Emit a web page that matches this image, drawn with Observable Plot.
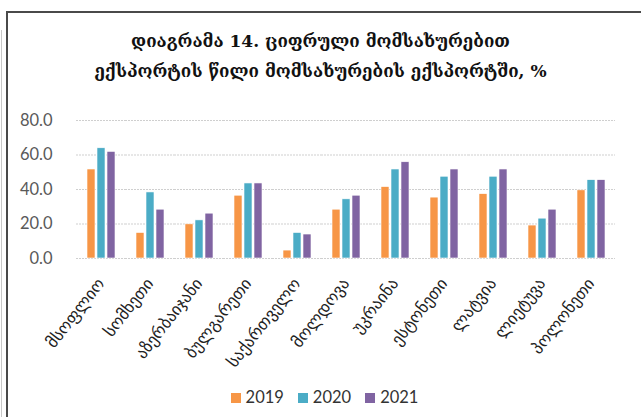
<!DOCTYPE html>
<html>
<head>
<meta charset="utf-8">
<script src="https://cdn.jsdelivr.net/npm/d3@7"></script>
<script src="https://cdn.jsdelivr.net/npm/@observablehq/plot@0.6"></script>
<style>
  html, body { margin: 0; padding: 0; background: #fff; width: 641px; height: 417px; overflow: hidden; }
  #wrap { position: relative; width: 641px; height: 417px; }
  #frame { position: absolute; left: 6px; top: 11px; right: -10px; bottom: -10px; border-left: 2px solid #4a4a4a; border-top: 2px solid #4a4a4a; }
  #edge { position: absolute; left: 1px; top: 30px; bottom: 0; width: 1px; background: #c8c8c8; }
  #title { position: absolute; left: 0; width: 641px; top: 26px; text-align: center; font-family: "DejaVu Serif", serif; font-weight: bold; font-size: 17px; line-height: 30px; color: #111; }
  #chart { position: absolute; left: 0; top: 100px; }
  #legend { position: absolute; left: 4px; width: 641px; top: 387px; text-align: center; font-family: Lato, "Liberation Sans", sans-serif; font-size: 16.5px; color: #333; }
  #legend span.item { display: inline-block; margin: 0 7px; }
  #legend span.sw { display: inline-block; width: 10px; height: 10px; margin-right: 5px; vertical-align: 0px; }
</style>
</head>
<body>
<div id="wrap">
  <div id="edge"></div>
  <div id="frame"></div>
  <div id="title"></div>
  <div id="chart"></div>
  <div id="legend"></div>
</div>
<script>
const titleLines = [
  "დიაგრამა 14. ციფრული მომსახურებით",
  "ექსპორტის წილი მომსახურების ექსპორტში, %"
];
const countries = ["მსოფლიო", "სომხეთი", "აზერბაიჯანი", "ბულგარეთი", "საქართველო", "მოლდოვა", "უკრაინა", "ესტონეთი", "ლატვია", "ლიეტუვა", "პოლონეთი"];
const years = ["2019", "2020", "2021"];
const v2019 = [51.6, 14.8, 19.8, 36.4, 4.6, 28.3, 41.4, 35.3, 37.3, 19.1, 39.5];
const v2020 = [63.9, 38.3, 22.1, 43.5, 14.8, 34.3, 51.6, 47.4, 47.4, 23.1, 45.4];
const v2021 = [61.8, 28.3, 26.0, 43.5, 13.9, 36.4, 55.8, 51.6, 51.6, 28.3, 45.4];
const yTicks = [0, 20, 40, 60, 80];
const colors = ["#F79646", "#4BACC6", "#8064A2"];

const series = [v2019, v2020, v2021];
const data = [];
countries.forEach((c, i) => years.forEach((y, j) => data.push({country: c, year: y, value: series[j][i]})));

document.getElementById("title").innerHTML = titleLines.join("<br>");

const chart = Plot.plot({
  width: 641,
  height: 270,
  marginTop: 20,
  marginBottom: 112,
  marginLeft: 73,
  marginRight: 23,
  style: {fontFamily: "DejaVu Sans, sans-serif", background: "transparent"},
  facet: {data, x: "country"},
  fx: {domain: countries, padding: 0, label: null, tickSize: 0, tickRotate: -52, tickPadding: 22, axis: "bottom"},
  x: {domain: years, axis: null, paddingInner: 0.22, paddingOuter: 0.9},
  y: {domain: [0, 80], ticks: yTicks, tickFormat: d => d.toFixed(1), label: null, tickSize: 0, tickPadding: 24},
  color: {domain: years, range: colors},
  marks: [
    Plot.ruleY(yTicks, {stroke: "#cfcfcf", strokeWidth: 1.2, strokeDasharray: "2,1"}),
    Plot.barY(data, {x: "year", y: "value", fill: "year", stroke: "#ffffff", strokeWidth: 0.6})
  ]
});
chart.querySelectorAll("[aria-label='y-axis'] text, [aria-label='y-axis tick label'] text").forEach(t => {
  t.style.fontSize = "16.5px"; t.style.fontFamily = "Lato, 'Liberation Sans', sans-serif"; t.setAttribute("fill", "#595959");
});
chart.querySelectorAll("[aria-label='fx-axis'] text, [aria-label='fx-axis tick label'] text").forEach(t => {
  t.style.fontSize = "16.5px"; t.setAttribute("fill", "#222");
});
document.getElementById("chart").appendChild(chart);

const legend = document.getElementById("legend");
years.forEach((y, j) => {
  const item = document.createElement("span");
  item.className = "item";
  item.innerHTML = `<span class="sw" style="background:${colors[j]}"></span>${y}`;
  legend.appendChild(item);
});
</script>
</body>
</html>
